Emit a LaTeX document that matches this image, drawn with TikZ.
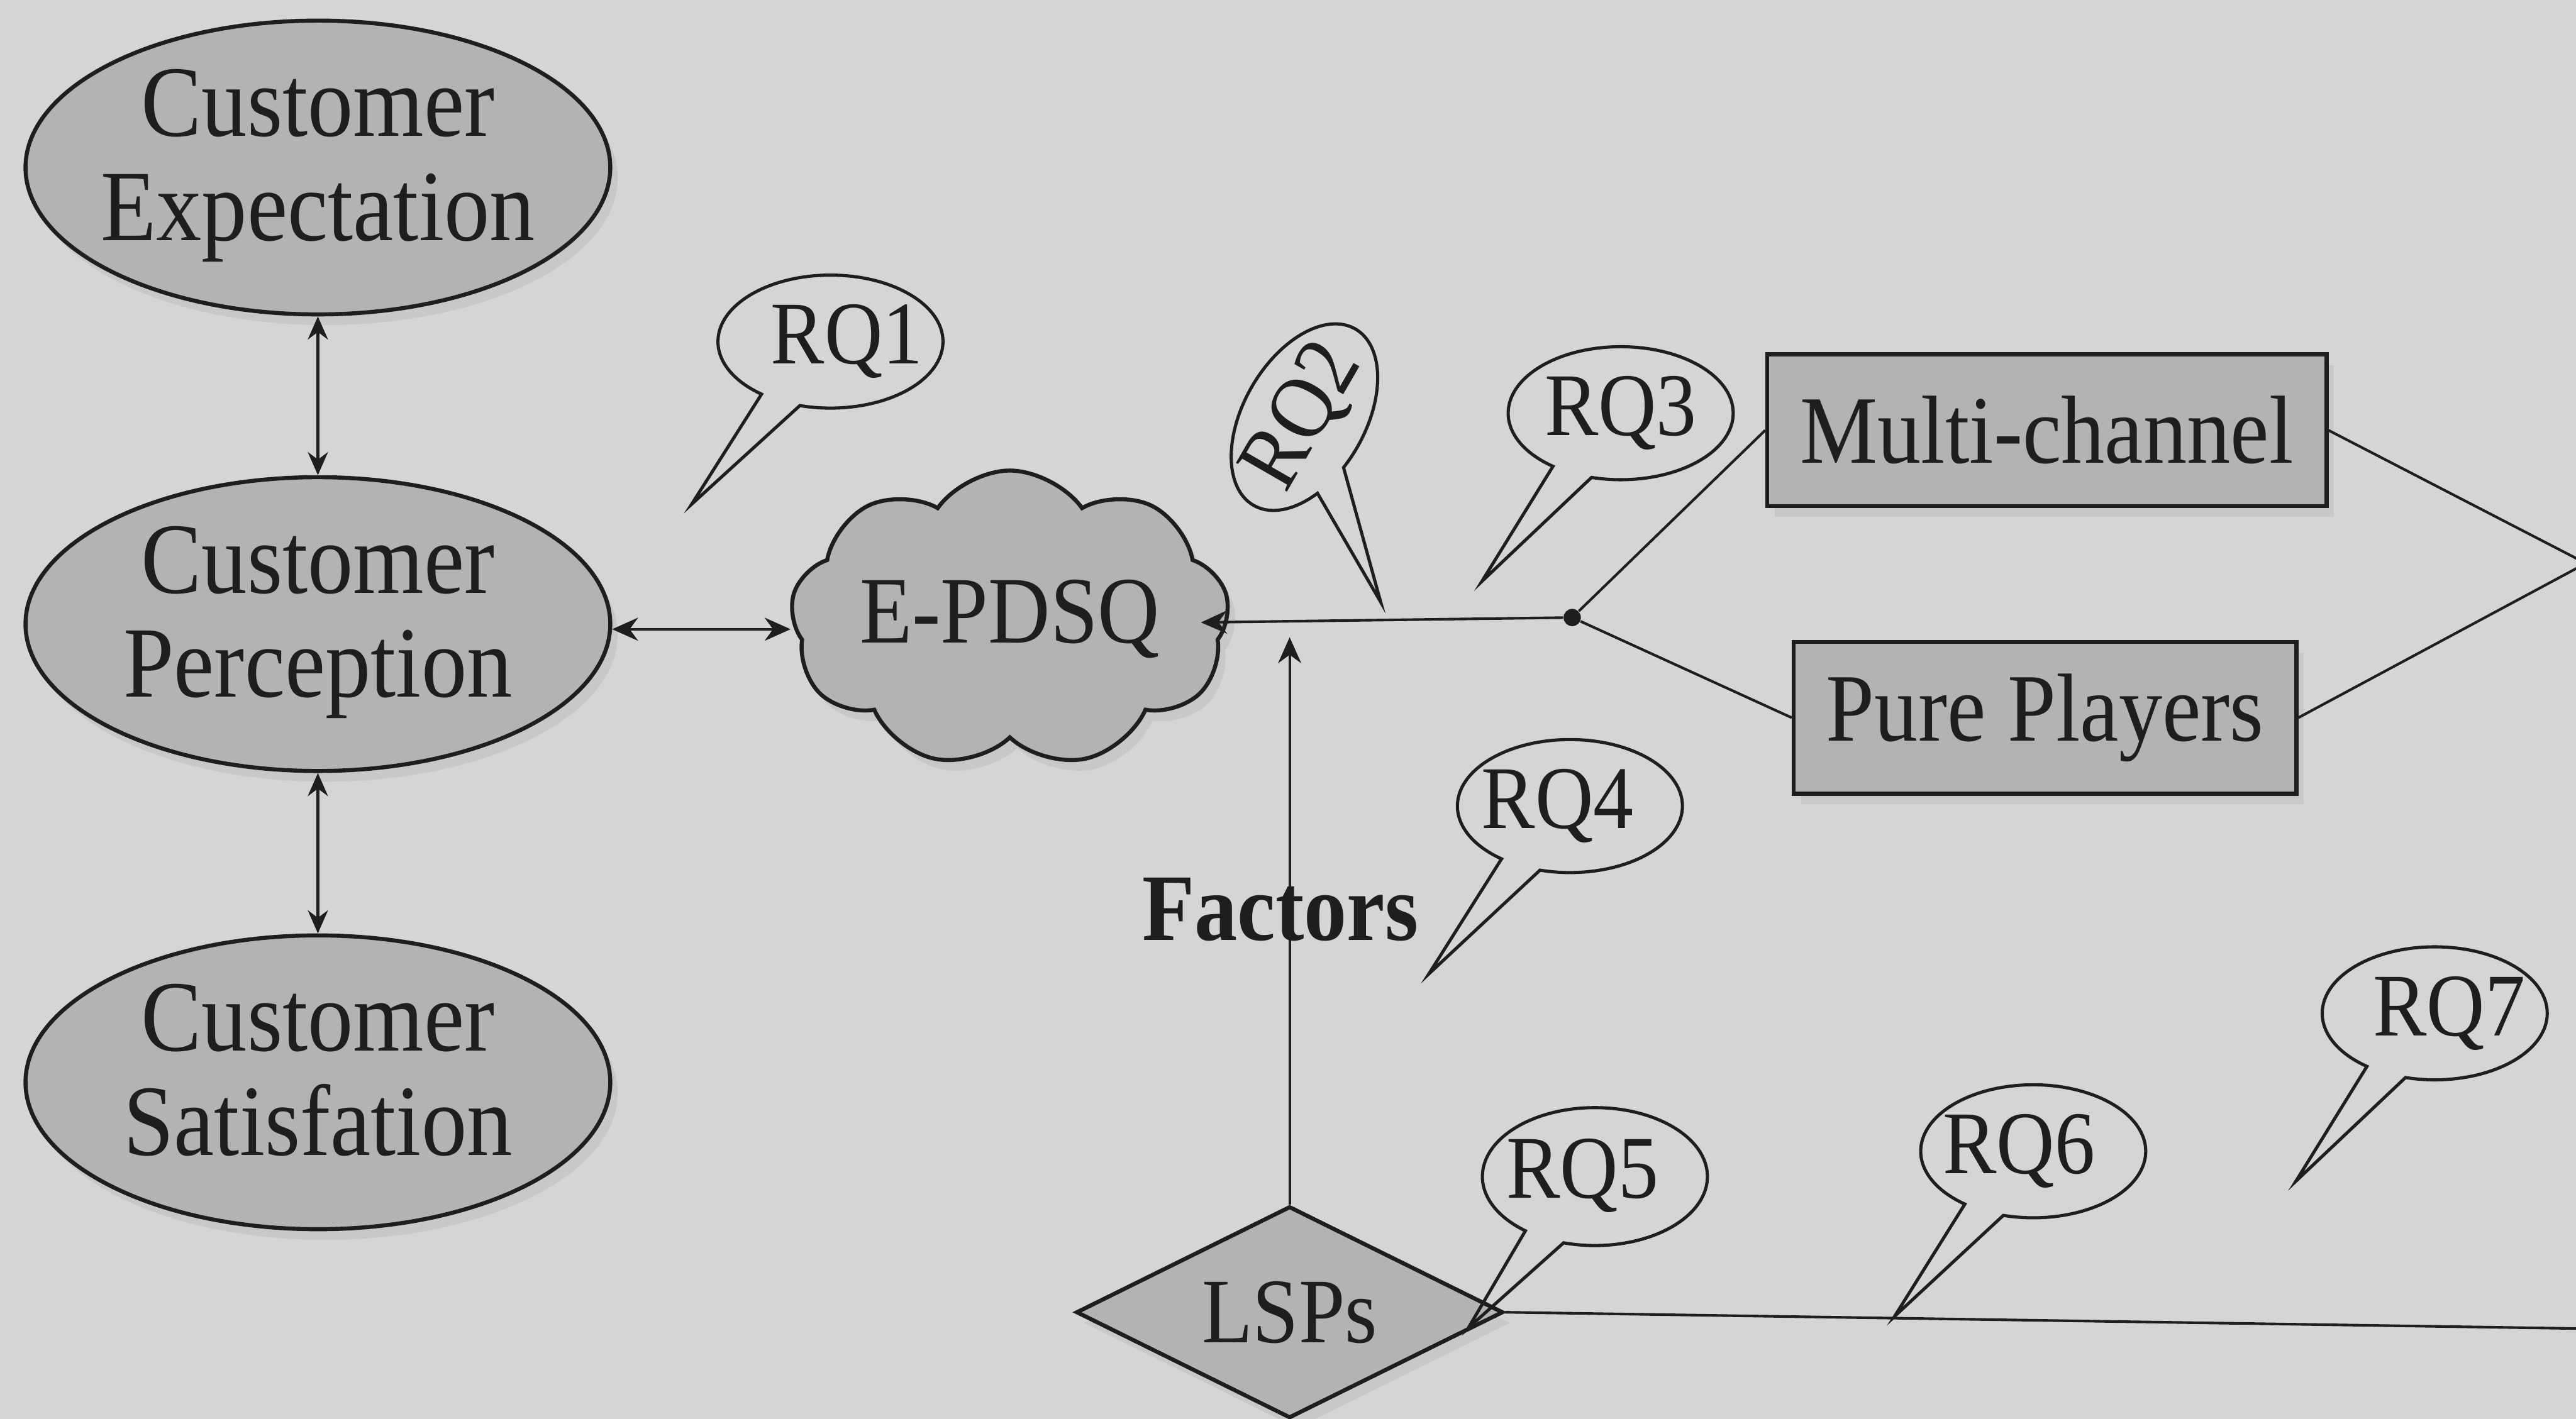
\documentclass[tikz,border=0pt]{standalone}
\usepackage{fontspec}
\setmainfont[FakeStretch=0.9]{Liberation Serif}
\usetikzlibrary{shapes.geometric,shapes.symbols,shapes.callouts,arrows.meta,shadows}
\definecolor{bg}{HTML}{D5D5D5}
\definecolor{shapefill}{HTML}{B3B3B3}
\definecolor{ink}{HTML}{1E1E1E}
\definecolor{shade}{HTML}{C8C8C8}
\begin{document}
\begin{tikzpicture}[x=0.02cm,y=-0.02cm,
  every node/.style={text=ink},
  shapeline/.style={draw=ink,line width=1.4pt,fill=shapefill},
  softshadow/.style={drop shadow={shadow xshift=0.09cm,shadow yshift=-0.13cm,fill=shade,opacity=1}},
  oval/.style={ellipse,shapeline,softshadow,inner sep=0pt,minimum width=7.12cm,minimum height=3.52cm,font=\fontsize{35}{36}\selectfont},
  boxnode/.style={rectangle,shapeline,softshadow,inner sep=0pt,minimum height=1.85cm,font=\fontsize{33.5}{36}\selectfont},
  conn/.style={draw=ink,line width=0.9pt},
  bubble/.style={ellipse callout,draw=ink,line width=1.1pt,inner sep=0pt,minimum width=2.74cm,minimum height=1.62cm,callout pointer arc=22,font=\fontsize{31}{34}\selectfont}
]
\useasboundingbox (0,0) rectangle (1568,864);
\fill[bg] (0,0) rectangle (1568,864);
\clip (0,0) rectangle (1568,864);

% main shapes
\node[oval] (exp) at (193.5,102) {\makebox[0pt]{\begin{tabular}{@{}c@{}}Customer\\Expectation\end{tabular}}};
\node[oval] (perc) at (193.5,380) {\makebox[0pt]{\begin{tabular}{@{}c@{}}Customer\\Perception\end{tabular}}};
\node[oval] (sat) at (193.5,659) {\makebox[0pt]{\begin{tabular}{@{}c@{}}Customer\\Satisfation\end{tabular}}};

\node[cloud,cloud puffs=9,cloud puff arc=110,aspect=1.4,shapeline,softshadow,inner sep=0pt,
      minimum width=5.34cm,minimum height=3.62cm,font=\fontsize{33}{36}\selectfont] (cloud) at (614.7,377) {\makebox[0pt]{E-PDSQ}};

\node[boxnode,minimum width=6.81cm] (mc) at (1245.9,262) {Multi-channel};
\node[boxnode,minimum width=6.12cm] (pp) at (1244.8,437) {Pure Players};

\node[diamond,aspect=2,shapeline,softshadow,inner sep=0pt,minimum width=5.2cm,minimum height=2.58cm,
      font=\fontsize{32}{36}\selectfont] (lsp) at (785,799) {\makebox[0pt]{LSPs}};

\node[circle,fill=ink,inner sep=0pt,minimum size=6pt] (J) at (957,376) {};
\coordinate (R) at (1574,343);
\coordinate (RB) at (1574,809);
\coordinate (CE) at (731,379);
\coordinate (FT) at (785,388);

% connectors
\draw[conn,{Stealth[length=8pt,width=7pt]}-{Stealth[length=8pt,width=7pt]}] (exp.south) -- (perc.north);
\draw[conn,{Stealth[length=8pt,width=7pt]}-{Stealth[length=8pt,width=7pt]}] (perc.south) -- (sat.north);
\draw[conn,{Stealth[length=9pt,width=8pt]}-{Stealth[length=9pt,width=8pt]}] (perc.-1.6) -- (perc.-1.6 -| cloud.west);
\draw[conn,-{Stealth[length=9pt,width=8pt]}] (J) -- (CE);
\draw[conn] (J) -- (mc.west);
\draw[conn] (J) -- (pp.west);
\draw[conn] (mc.east) -- (R);
\draw[conn] (pp.east) -- (R);
\draw[conn,-{Stealth[length=9pt,width=8pt]}] (lsp.north) -- (FT);
\draw[conn] (lsp.east) -- (RB);

\node[font=\bfseries\fontsize{33}{36}\selectfont,anchor=base] (fac) at (779.3,572.5) {Factors};

% callouts
\node[bubble,callout absolute pointer={(421,307)}] (rq1) at (505.5,208) {\makebox[0pt]{\kern0.4cm RQ1}};
\node[bubble,rotate=60,minimum width=2.48cm,minimum height=1.48cm,callout relative pointer={(-0.97cm,-1.26cm)}] (rq2) at (794,254) {\makebox[0pt]{RQ2}};
\node[bubble,callout absolute pointer={(902,354)}] (rq3) at (986.5,251.6) {\makebox[0pt]{RQ3}};
\node[bubble,callout absolute pointer={(869.7,593)}] (rq4) at (955.6,490.8) {\makebox[0pt]{RQ4\kern0.3cm}};
\node[bubble,minimum height=1.68cm,callout absolute pointer={(893.8,808.5)}] (rq5) at (970.8,716.4) {\makebox[0pt]{\raisebox{0.2cm}{RQ5}\kern0.3cm}};
\node[bubble,callout absolute pointer={(1153.2,801.5)}] (rq6) at (1237.6,701) {\makebox[0pt]{\raisebox{0.15cm}{RQ6}\kern0.35cm}};
\node[bubble,callout absolute pointer={(1397.5,719.2)}] (rq7) at (1482,617) {\makebox[0pt]{\kern0.35cm\raisebox{0.15cm}{RQ7}}};
\end{tikzpicture}
\end{document}
